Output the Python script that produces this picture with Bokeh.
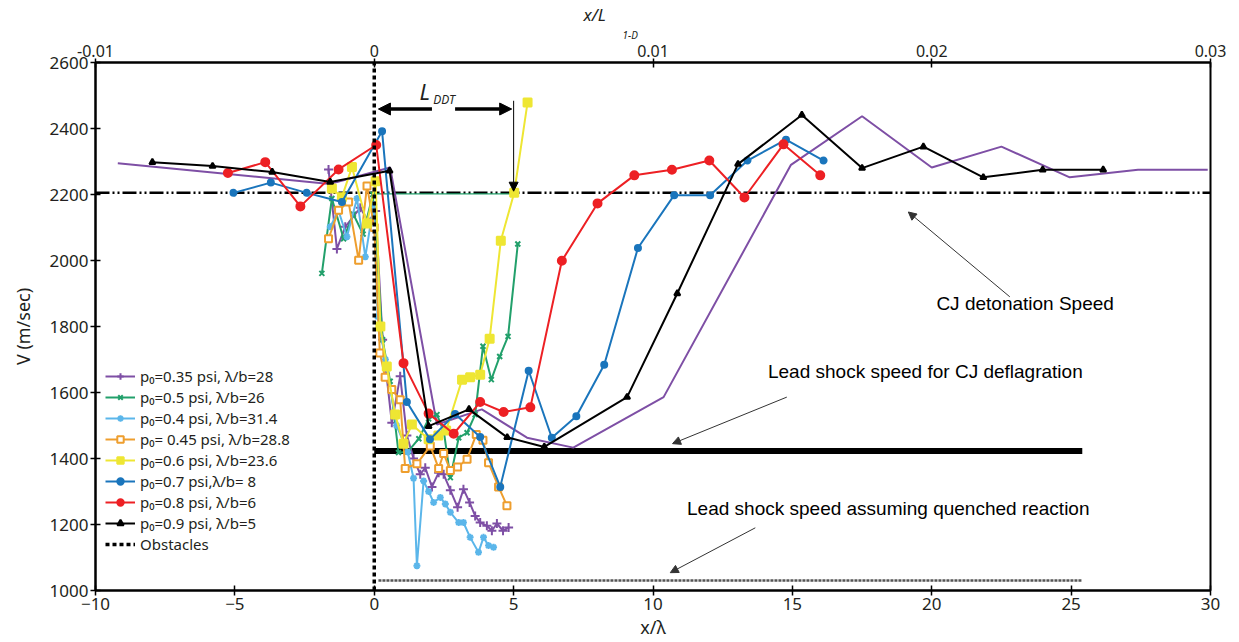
from bokeh.plotting import figure
from bokeh.models import (Range1d, LinearAxis, FixedTicker, Arrow, NormalHead, Label, Title,
                          Legend, LegendItem, CustomJSTickFormatter)
from bokeh.embed import file_html
from bokeh.resources import INLINE

# ---------------- data ----------------
p035_x = [-1.64, -1.34, -1.04, -0.5, -0.2, 0.05, 0.3, 0.63, 0.93, 1.17, 1.41, 1.65, 1.83, 2.07, 2.31,
          2.49, 2.73, 2.99, 3.2, 3.42, 3.62, 3.8, 4.04, 4.22, 4.4, 4.62, 4.82]
p035_v = [2276, 2035, 2102, 2160, 2117, 2150, 1760, 1508, 1649, 1470, 1400, 1352, 1372, 1314, 1357,
          1352, 1304, 1252, 1307, 1267, 1226, 1206, 1196, 1181, 1203, 1181, 1191]
p035b_x = [-9.2, -1.6, 0.57, 2.25, 3.86, 5.48, 7.14, 10.38, 14.95, 17.5, 20.0, 22.5, 24.95, 27.4, 29.9]
p035b_v = [2295, 2232, 2282, 1503, 1549, 1463, 1433, 1586, 2290, 2437, 2282, 2345, 2252, 2275, 2275]

p05_x = [-1.88, -1.52, -1.1, -0.75, -0.4, -0.05, 0.3, 0.57, 0.87, 1.2, 1.6, 1.95, 2.25, 2.5, 2.73,
         3.03, 3.33, 3.62, 3.9, 4.2, 4.5, 4.8, 5.15]
p05_v = [1961, 2188, 2066, 2140, 2080, 2200, 1760, 1634, 1418, 1420, 1460, 1520, 1533, 1480, 1342,
         1463, 1478, 1533, 1740, 1639, 1709, 1770, 2050]

p04_x = [-1.58, -1.28, -0.98, -0.62, -0.32, -0.02, 0.12, 0.4, 0.8, 1.2, 1.41, 1.53, 1.77, 1.95, 2.13,
         2.37, 2.55, 2.73, 3.03, 3.2, 3.44, 3.74, 3.92, 4.1, 4.28]
p04_v = [2102, 2150, 2072, 2188, 2011, 2170, 1830, 1700, 1500, 1420, 1340, 1075, 1332, 1300, 1267,
         1282, 1262, 1237, 1206, 1206, 1161, 1116, 1161, 1136, 1131]

p045_x = [-1.64, -1.28, -0.92, -0.56, -0.26, 0.0, 0.2, 0.39, 0.63, 0.93, 1.11, 1.53, 2.01, 2.31, 2.49,
          2.73, 2.99, 3.33, 3.66, 3.9, 4.1, 4.46, 4.76]
p045_v = [2066, 2152, 2177, 2001, 2226, 2100, 1720, 1646, 1609, 1578, 1370, 1384, 1438, 1370, 1415,
          1364, 1374, 1398, 1473, 1455, 1387, 1314, 1257]

p06_x = [-1.52, -1.16, -0.8, -0.26, 0.05, 0.22, 0.45, 0.75, 1.05, 1.35, 1.95, 2.3, 2.58, 3.15, 3.44,
         3.8, 4.14, 4.54, 5.02, 5.5]
p06_v = [2218, 2192, 2283, 2112, 2240, 1800, 1679, 1533, 1445, 1503, 1458, 1470, 1485, 1639, 1646,
         1654, 1763, 2060, 2205, 2479]

p07_x = [-5.05, -3.71, -2.42, -1.16, 0.28, 1.17, 2.0, 2.9, 3.8, 4.52, 5.54, 6.37, 7.25, 8.25, 9.46,
         10.76, 12.05, 13.39, 14.77, 16.12]
p07_v = [2205, 2236, 2205, 2177, 2392, 1571, 1458, 1535, 1465, 1314, 1666, 1463, 1528, 1684, 2038,
         2198, 2198, 2303, 2366, 2303]

p08_x = [-5.25, -3.91, -2.65, -1.28, 0.07, 1.05, 1.95, 2.85, 3.8, 4.64, 5.6, 6.73, 8.01, 9.33, 10.68,
         12.02, 13.28, 14.68, 16.0]
p08_v = [2265, 2298, 2164, 2276, 2350, 1689, 1536, 1475, 1571, 1541, 1555, 1999, 2173, 2258, 2275,
         2303, 2191, 2352, 2258]

p09_x = [-7.96, -5.8, -3.66, -1.58, 0.55, 1.95, 3.4, 4.77, 6.1, 9.07, 10.87, 13.05, 15.34, 17.5, 19.7,
         21.85, 23.98, 26.15]
p09_v = [2298, 2286, 2268, 2238, 2272, 1498, 1549, 1464, 1435, 1586, 1900, 2292, 2441, 2280, 2345,
         2252, 2275, 2275]

labels = ["p\u2080=0.35 psi, \u03bb/b=28", "p\u2080=0.5 psi, \u03bb/b=26", "p\u2080=0.4 psi, \u03bb/b=31.4",
          "p\u2080= 0.45 psi, \u03bb/b=28.8", "p\u2080=0.6 psi, \u03bb/b=23.6", "p\u2080=0.7 psi,\u03bb/b= 8",
          "p\u2080=0.8 psi, \u03bb/b=6", "p\u2080=0.9 psi, \u03bb/b=5", "Obstacles"]

x_ticks = [-10, -5, 0, 5, 10, 15, 20, 25, 30]
y_ticks = [1000, 1200, 1400, 1600, 1800, 2000, 2200, 2400, 2600]
top_ticks = [-0.01, 0, 0.01, 0.02, 0.03]

cj_speed = 2205
deflag_speed = 1423
quench_speed = 1030
ref_x_end = 25.4
obstacle_x = 0

# ---------------- figure ----------------
FONT = "Noto Sans"
p = figure(width=1239, height=642, x_range=Range1d(-10, 30), y_range=Range1d(1000, 2600),
           output_backend="svg", toolbar_location=None, title_location=None,
           min_border_left=95, min_border_right=29, min_border_top=60, min_border_bottom=52)
p.xgrid.visible = False
p.ygrid.visible = False
p.outline_line_color = "black"
p.outline_line_width = 2
p.background_fill_color = "white"

bottom_axis = p.below[0]
left_axis = p.left[0]

p.extra_x_ranges = {"top": Range1d(-0.01, 0.03)}
top_axis = LinearAxis(x_range_name="top", ticker=FixedTicker(ticks=top_ticks),
                      formatter=CustomJSTickFormatter(code="return Math.abs(tick) < 1e-9 ? '0' : tick.toFixed(2);"))
p.add_layout(top_axis, "above")

bottom_axis.ticker = FixedTicker(ticks=x_ticks)
left_axis.ticker = FixedTicker(ticks=y_ticks)
bottom_axis.axis_label = "x/\u03bb"
left_axis.axis_label = "V (m/sec)"

for ax in [bottom_axis, left_axis, top_axis]:
    ax.axis_line_width = 2
    ax.axis_line_color = "black"
    ax.major_tick_in = 5
    ax.major_tick_out = 5
    ax.major_tick_line_width = 1.5
    ax.minor_tick_in = 0
    ax.minor_tick_out = 0
    ax.major_label_text_font = FONT
    ax.major_label_text_font_size = "17px"
    ax.major_label_text_color = "#231f20"
    ax.major_label_standoff = 2
    ax.axis_label_text_font = FONT
    ax.axis_label_text_font_size = "18px"
    ax.axis_label_text_font_style = "normal"
    ax.axis_label_text_color = "#231f20"
    ax.axis_label_standoff = 2
left_axis.axis_label_standoff = 12
top_axis.major_tick_out = 4
top_axis.major_label_text_font_size = "16px"

# top axis title: x/L with subscript 1-D (two stacked titles)
p.add_layout(Title(text="1-D", align="left", offset=527, standoff=0, text_font=FONT,
                   text_font_size="10px", text_font_style="italic", text_color="#231f20"), "above")
p.add_layout(Title(text="x/L", align="left", offset=488, standoff=0, text_font=FONT,
                   text_font_size="17px", text_font_style="italic", text_color="#231f20"), "above")

# ---------------- reference lines ----------------
p.line([-10, 30], [cj_speed, cj_speed], line_color="black", line_width=2.5, line_dash="14 3 2 3 2 3")
p.line([obstacle_x, 5.0], [cj_speed - 3, cj_speed - 3], line_color="#22A06B", line_width=1.2)
p.line([obstacle_x, ref_x_end], [deflag_speed, deflag_speed], line_color="black", line_width=6)
p.line([0.15, ref_x_end], [quench_speed, quench_speed], line_color="#555555", line_width=2.5, line_dash="3 1")

# ---------------- series ----------------
series = [
    (p035_x, p035_v, "#7E4FA5", "cross", 9, "#7E4FA5"),
    (p05_x, p05_v, "#22A06B", "x", 7, "#22A06B"),
    (p04_x, p04_v, "#5BB6EA", "asterisk", 7, "#5BB6EA"),
    (p045_x, p045_v, "#EE9E2E", "square", 7, "white"),
    (p06_x, p06_v, "#EEE633", "square", 8, "#EEE633"),
    (p07_x, p07_v, "#1A75BC", "circle", 6, "#1A75BC"),
    (p08_x, p08_v, "#ED2024", "circle", 8, "#ED2024"),
    (p09_x, p09_v, "black", "triangle", 6, "black"),
]

items = []
p.line(p035b_x, p035b_v, line_color="#7E4FA5", line_width=2)
for (xs, vs, col, mk, sz, fill), lab in zip(series, labels[:-1]):
    lr = p.line(xs, vs, line_color=col, line_width=2)
    sr = p.scatter(xs, vs, marker=mk, size=sz, line_color=col, fill_color=fill, line_width=2)
    items.append(LegendItem(label=lab, renderers=[lr, sr]))

obs = p.line([obstacle_x, obstacle_x], [1000, 2600], line_color="black", line_width=3.5, line_dash="4 3")
items.append(LegendItem(label=labels[-1], renderers=[obs]))

legend = Legend(items=items, location=(8, 34), label_text_font=FONT, label_text_font_size="15px",
                label_text_color="#231f20", glyph_width=30, glyph_height=16, label_height=16,
                label_text_line_height=1.0, spacing=1, padding=2,
                background_fill_alpha=0, border_line_alpha=0)
p.add_layout(legend)

# ---------------- annotations ----------------
p.add_layout(Arrow(end=NormalHead(size=12, fill_color="black", line_color="black"),
                   x_start=2.07, y_start=2459, x_end=0.15, y_end=2459, line_width=3.5))
p.add_layout(Arrow(end=NormalHead(size=12, fill_color="black", line_color="black"),
                   x_start=2.9, y_start=2459, x_end=4.93, y_end=2459, line_width=3.5))
p.add_layout(Arrow(end=NormalHead(size=9, fill_color="black", line_color="black"),
                   x_start=5.0, y_start=2484, x_end=5.0, y_end=2210, line_width=1))
p.add_layout(Label(x=1.62, y=2513, text="L", text_font=FONT, text_font_size="22px",
                   text_font_style="italic", text_baseline="middle", text_color="#231f20"))
p.add_layout(Label(x=2.12, y=2488, text="DDT", text_font=FONT, text_font_size="12px",
                   text_font_style="italic", text_baseline="middle", text_color="#231f20"))

ANN = "Liberation Sans"
p.add_layout(Label(x=23.35, y=1869, text="CJ detonation Speed", text_font=ANN, text_font_size="19px",
                   text_align="center", text_baseline="middle", text_color="black"))
p.add_layout(Label(x=19.77, y=1664, text="Lead shock speed for CJ deflagration", text_font=ANN,
                   text_font_size="19px", text_align="center", text_baseline="middle", text_color="black"))
p.add_layout(Label(x=18.44, y=1248, text="Lead shock speed assuming quenched reaction", text_font=ANN,
                   text_font_size="19px", text_align="center", text_baseline="middle", text_color="black"))

for (xs, ys, xe, ye) in [(22.8, 1890, 19.16, 2147), (14.8, 1586, 10.7, 1445), (13.67, 1190, 10.62, 1054)]:
    p.add_layout(Arrow(end=NormalHead(size=8, fill_color="#333333", line_color="#333333"),
                       x_start=xs, y_start=ys, x_end=xe, y_end=ye, line_width=1, line_color="#333333"))

open("out.html", "w").write(file_html(p, INLINE))
